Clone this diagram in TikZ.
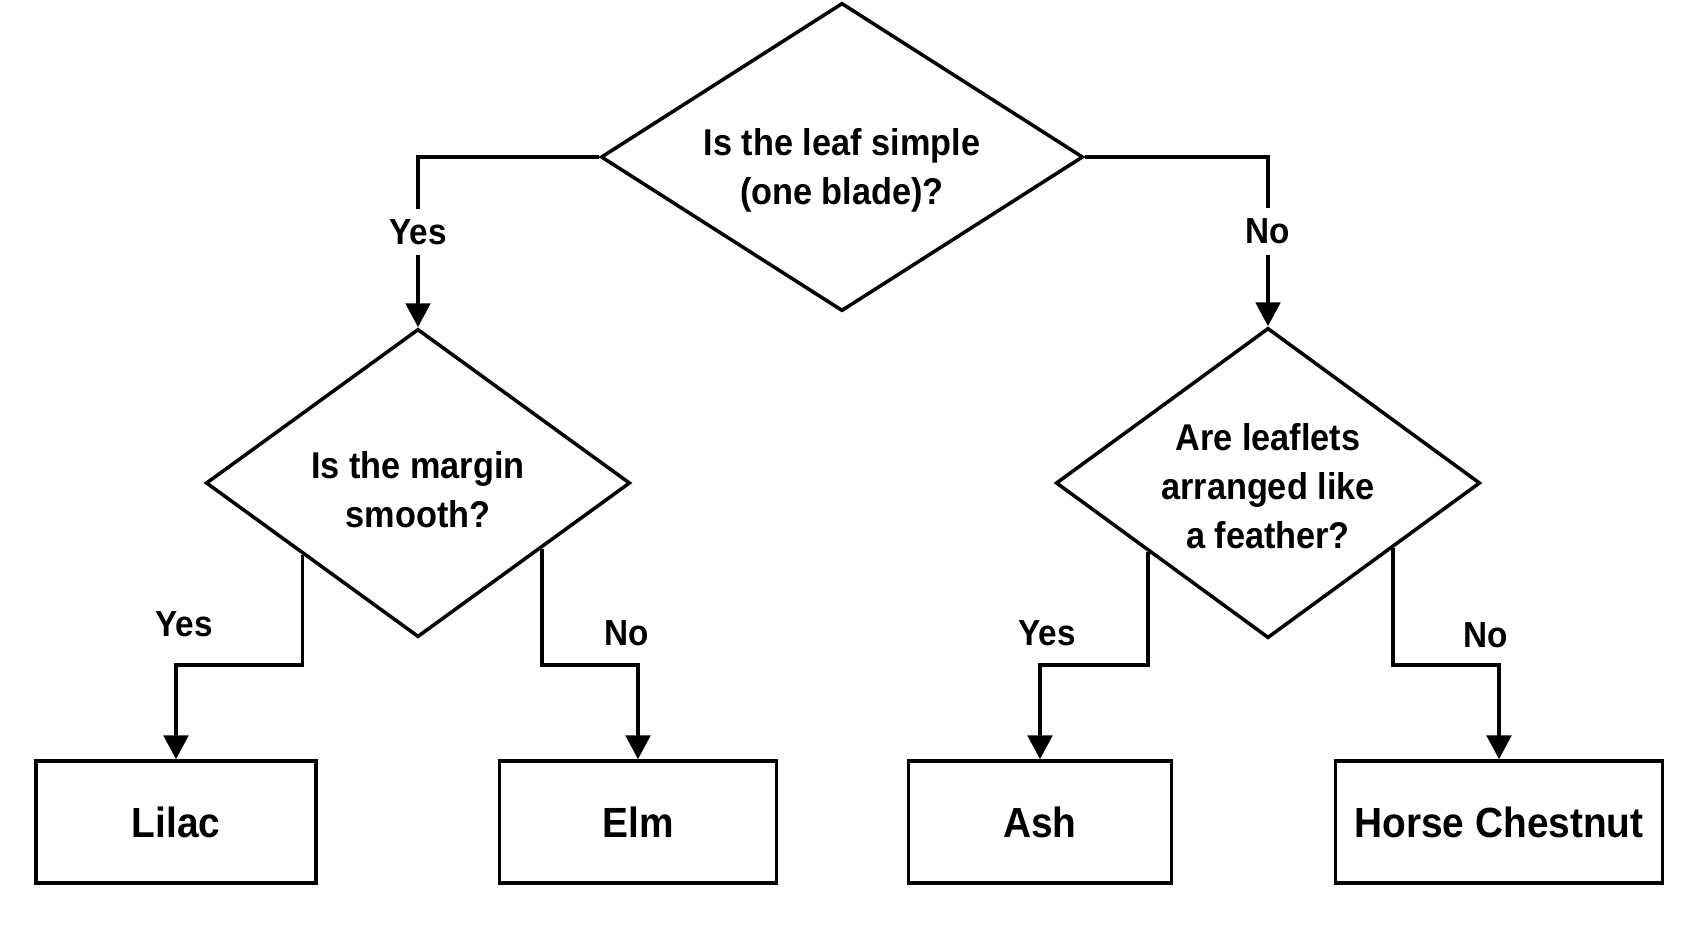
\documentclass[tikz,border=0pt]{standalone}
\usepackage{fontspec}
\setmainfont{Liberation Sans}[FakeStretch=0.92]
\usetikzlibrary{shapes.geometric,positioning,calc,arrows.meta}
\tikzset{
    question/.style={
        diamond, draw, line width=1pt, inner sep=0pt
    },
    questiontext/.style={
        align=center, inner sep=0pt,
        font=\bfseries\fontsize{10.6}{14}\selectfont
    },
    leafbox/.style={
        draw, line width=1pt, minimum height=1.22cm,
        font=\bfseries\fontsize{12}{14}\selectfont
    },
    % arrows between the questions and the answers
    flowarrow/.style={
        line width=1pt,
        -{Triangle[length=6.8pt, width=7pt]}
    },
    answer/.style={font=\bfseries\fontsize{10.3}{12}\selectfont}
}

\begin{document}
\begin{tikzpicture}[x=0.01cm, y=-0.01cm]
    \useasboundingbox (0,0) rectangle (1693,929);

    % ========== questions ==========
    \node[question, minimum width=4.82cm, minimum height=3.08cm] (simple) at (842,157) {};
    \node[question, minimum width=4.24cm, minimum height=3.08cm] (margin) at (418,483) {};
    \node[question, minimum width=4.24cm, minimum height=3.10cm] (feather) at (1268,483) {};

    \node[questiontext] (simpleText) at ($(simple)+(0,13)$) {Is the leaf simple\\(one blade)?};
    \node[questiontext] (marginText) at ($(margin)+(0,7)$) {Is the margin\\smooth?};
    \node[questiontext] (featherText) at ($(feather)+(0,3)$) {Are leaflets\\arranged like\\a feather?};

    % ========== trees ==========
    \node[leafbox, minimum width=2.80cm] (lilac) at (176,822) {Lilac};
    \node[leafbox, minimum width=2.77cm] (elm) at (638,822) {Elm};
    \node[leafbox, minimum width=2.63cm] (ash) at (1040,822) {Ash};
    \node[leafbox, minimum width=3.27cm] (chestnut) at (1499,822) {Horse Chestnut};

    % start points on the lower edges
    \coordinate (marginYes) at ($(margin.west)!0.459!(margin.south)$);
    \coordinate (marginNo) at ($(margin.south)!0.579!(margin.east)$);
    \coordinate (featherYes) at ($(feather.west)!0.439!(feather.south)$);
    \coordinate (featherNo) at ($(feather.south)!0.584!(feather.east)$);

    % ========== connectors ==========
    \draw[flowarrow] (simple.west) -| (margin.north)
        node[pos=0.72, answer, fill=white, inner sep=3pt] (simpleYes) {Yes};
    \draw[flowarrow] (simple.east) -| (feather.north)
        node[pos=0.72, answer, fill=white, inner sep=3pt] (simpleNo) {No};

    \draw[flowarrow] (marginYes) |- ($(lilac.north)+(0,-94)$) -- (lilac.north);
    \draw[flowarrow] (marginNo) |- ($(elm.north)+(0,-94)$) -- (elm.north);
    \draw[flowarrow] (featherYes) |- ($(ash.north)+(0,-94)$) -- (ash.north);
    \draw[flowarrow] (featherNo) |- ($(chestnut.north)+(0,-94)$) -- (chestnut.north);

    % labels
    \node[answer] (lilacYes) at (184,624) {Yes};
    \node[answer] (elmNo) at (627,633) {No};
    \node[answer] (ashYes) at (1047,633) {Yes};
    \node[answer] (chestnutNo) at (1486,635) {No};
\end{tikzpicture}
\end{document}
